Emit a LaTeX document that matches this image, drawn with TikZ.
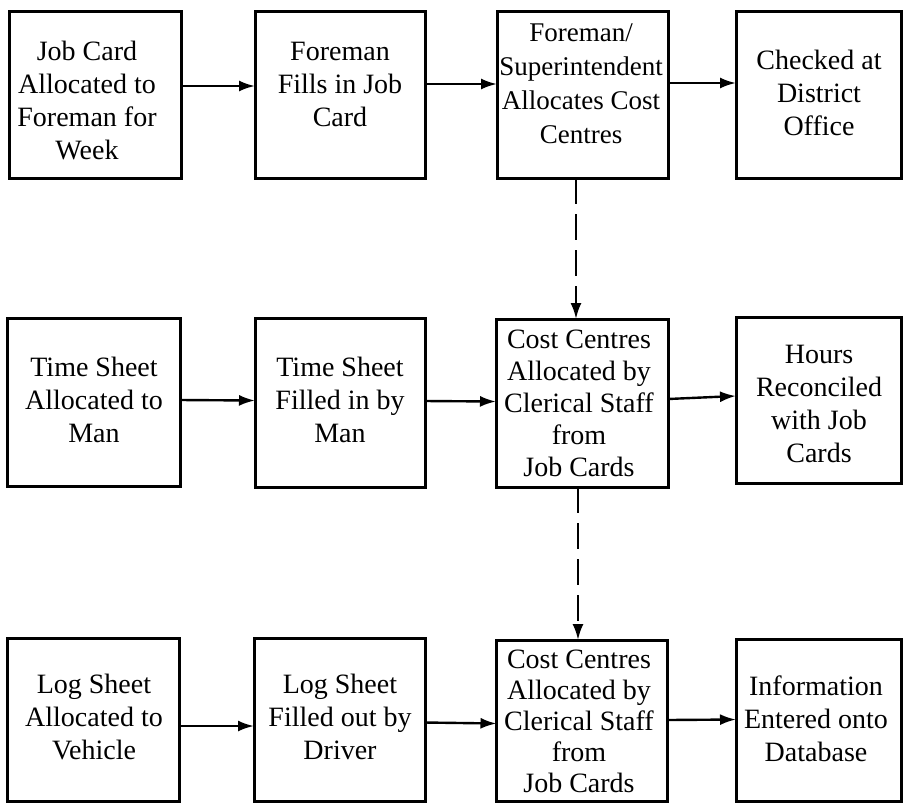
\documentclass[tikz,border=0pt]{standalone}
\usepackage{fontspec}
\setmainfont{Liberation Serif}
\usetikzlibrary{arrows.meta}
\begin{document}
\begin{tikzpicture}[x=1pt,y=-1pt,
  box/.style={draw, line width=3pt, inner sep=0pt, outer sep=0pt},
  txt/.style={align=center, font=\fontsize{28}{33}\selectfont, inner sep=0pt},
  flow/.style={line width=2.4pt, -{Latex[length=16pt,width=11pt]}},
  dflow/.style={flow, dash pattern=on 26pt off 10pt}]
\useasboundingbox (0,0) rectangle (904,804);
% row 1
\node[box, minimum width=172pt, minimum height=167pt] (b11) at (95,94.5) {};
\node[box, minimum width=170pt, minimum height=167pt] (b12) at (340,94.5) {};
\node[box, minimum width=171pt, minimum height=167pt] (b13) at (582.5,94.5) {};
\node[box, minimum width=165pt, minimum height=167pt] (b14) at (818.5,94.5) {};
% row 2
\node[box, minimum width=173pt, minimum height=168pt] (b21) at (94,402) {};
\node[box, minimum width=170pt, minimum height=169pt] (b22) at (340,402.5) {};
\node[box, minimum width=172pt, minimum height=168pt] (b23) at (582,403) {};
\node[box, minimum width=165pt, minimum height=166pt] (b24) at (818.5,400) {};
% row 3
\node[box, minimum width=172pt, minimum height=163pt] (b31) at (93,719.5) {};
\node[box, minimum width=171pt, minimum height=163pt] (b32) at (339.5,719.5) {};
\node[box, minimum width=171pt, minimum height=161pt] (b33) at (582,720.5) {};
\node[box, minimum width=165pt, minimum height=162pt] (b34) at (818.5,720) {};
% texts
\node[txt] (t11) at (87,100) {Job Card\\Allocated to\\Foreman for\\Week};
\node[txt] (t12) at (340,84) {Foreman\\Fills in Job\\Card};
\node[txt, font=\fontsize{27}{34}\selectfont] (t13) at (581,84) {Foreman/\\Superintendent\\Allocates Cost\\Centres};
\node[txt] (t14) at (819,93) {Checked at\\District\\Office};
\node[txt] (t21) at (94,400) {Time Sheet\\Allocated to\\Man};
\node[txt] (t22) at (340,400) {Time Sheet\\Filled in by\\Man};
\node[txt, font=\fontsize{28}{32}\selectfont] (t23) at (579,403) {Cost Centres\\Allocated by\\Clerical Staff\\from\\Job Cards};
\node[txt] (t24) at (819,404) {Hours\\Reconciled\\with Job\\Cards};
\node[txt] (t31) at (94,717) {Log Sheet\\Allocated to\\Vehicle};
\node[txt] (t32) at (340,717) {Log Sheet\\Filled out by\\Driver};
\node[txt, font=\fontsize{28}{31}\selectfont] (t33) at (579,721) {Cost Centres\\Allocated by\\Clerical Staff\\from\\Job Cards};
\node[txt] (t34) at (816,719) {Information\\Entered onto\\Database};
% horizontal connectors
\draw[flow] ([yshift=8.5pt]b11.east) -- ([yshift=8.5pt]b12.west);
\draw[flow] ([yshift=10.5pt]b12.east) -- ([yshift=10.5pt]b13.west);
\draw[flow] ([yshift=11.5pt]b13.east) -- ([yshift=11.5pt]b14.west);
\draw[flow] ([yshift=2pt]b21.east) -- ([yshift=2pt]b22.west);
\draw[flow] ([yshift=1.5pt]b22.east) -- ([yshift=1.5pt]b23.west);
\draw[flow] ([yshift=4pt]b23.east) -- ([yshift=4pt]b24.west);
\draw[flow] ([yshift=-6.5pt]b31.east) -- ([yshift=-6.5pt]b32.west);
\draw[flow] ([yshift=-3pt]b32.east) -- ([yshift=-3pt]b33.west);
\draw[flow] ([yshift=0.5pt]b33.east) -- ([yshift=0.5pt]b34.west);
% dashed vertical connectors
\draw[dflow] ([xshift=-6.5pt]b13.south) -- ([xshift=-6.5pt]b13.south |- b23.north);
\draw[dflow] ([xshift=-4pt]b23.south) -- ([xshift=-4pt]b23.south |- b33.north);
\end{tikzpicture}
\end{document}
